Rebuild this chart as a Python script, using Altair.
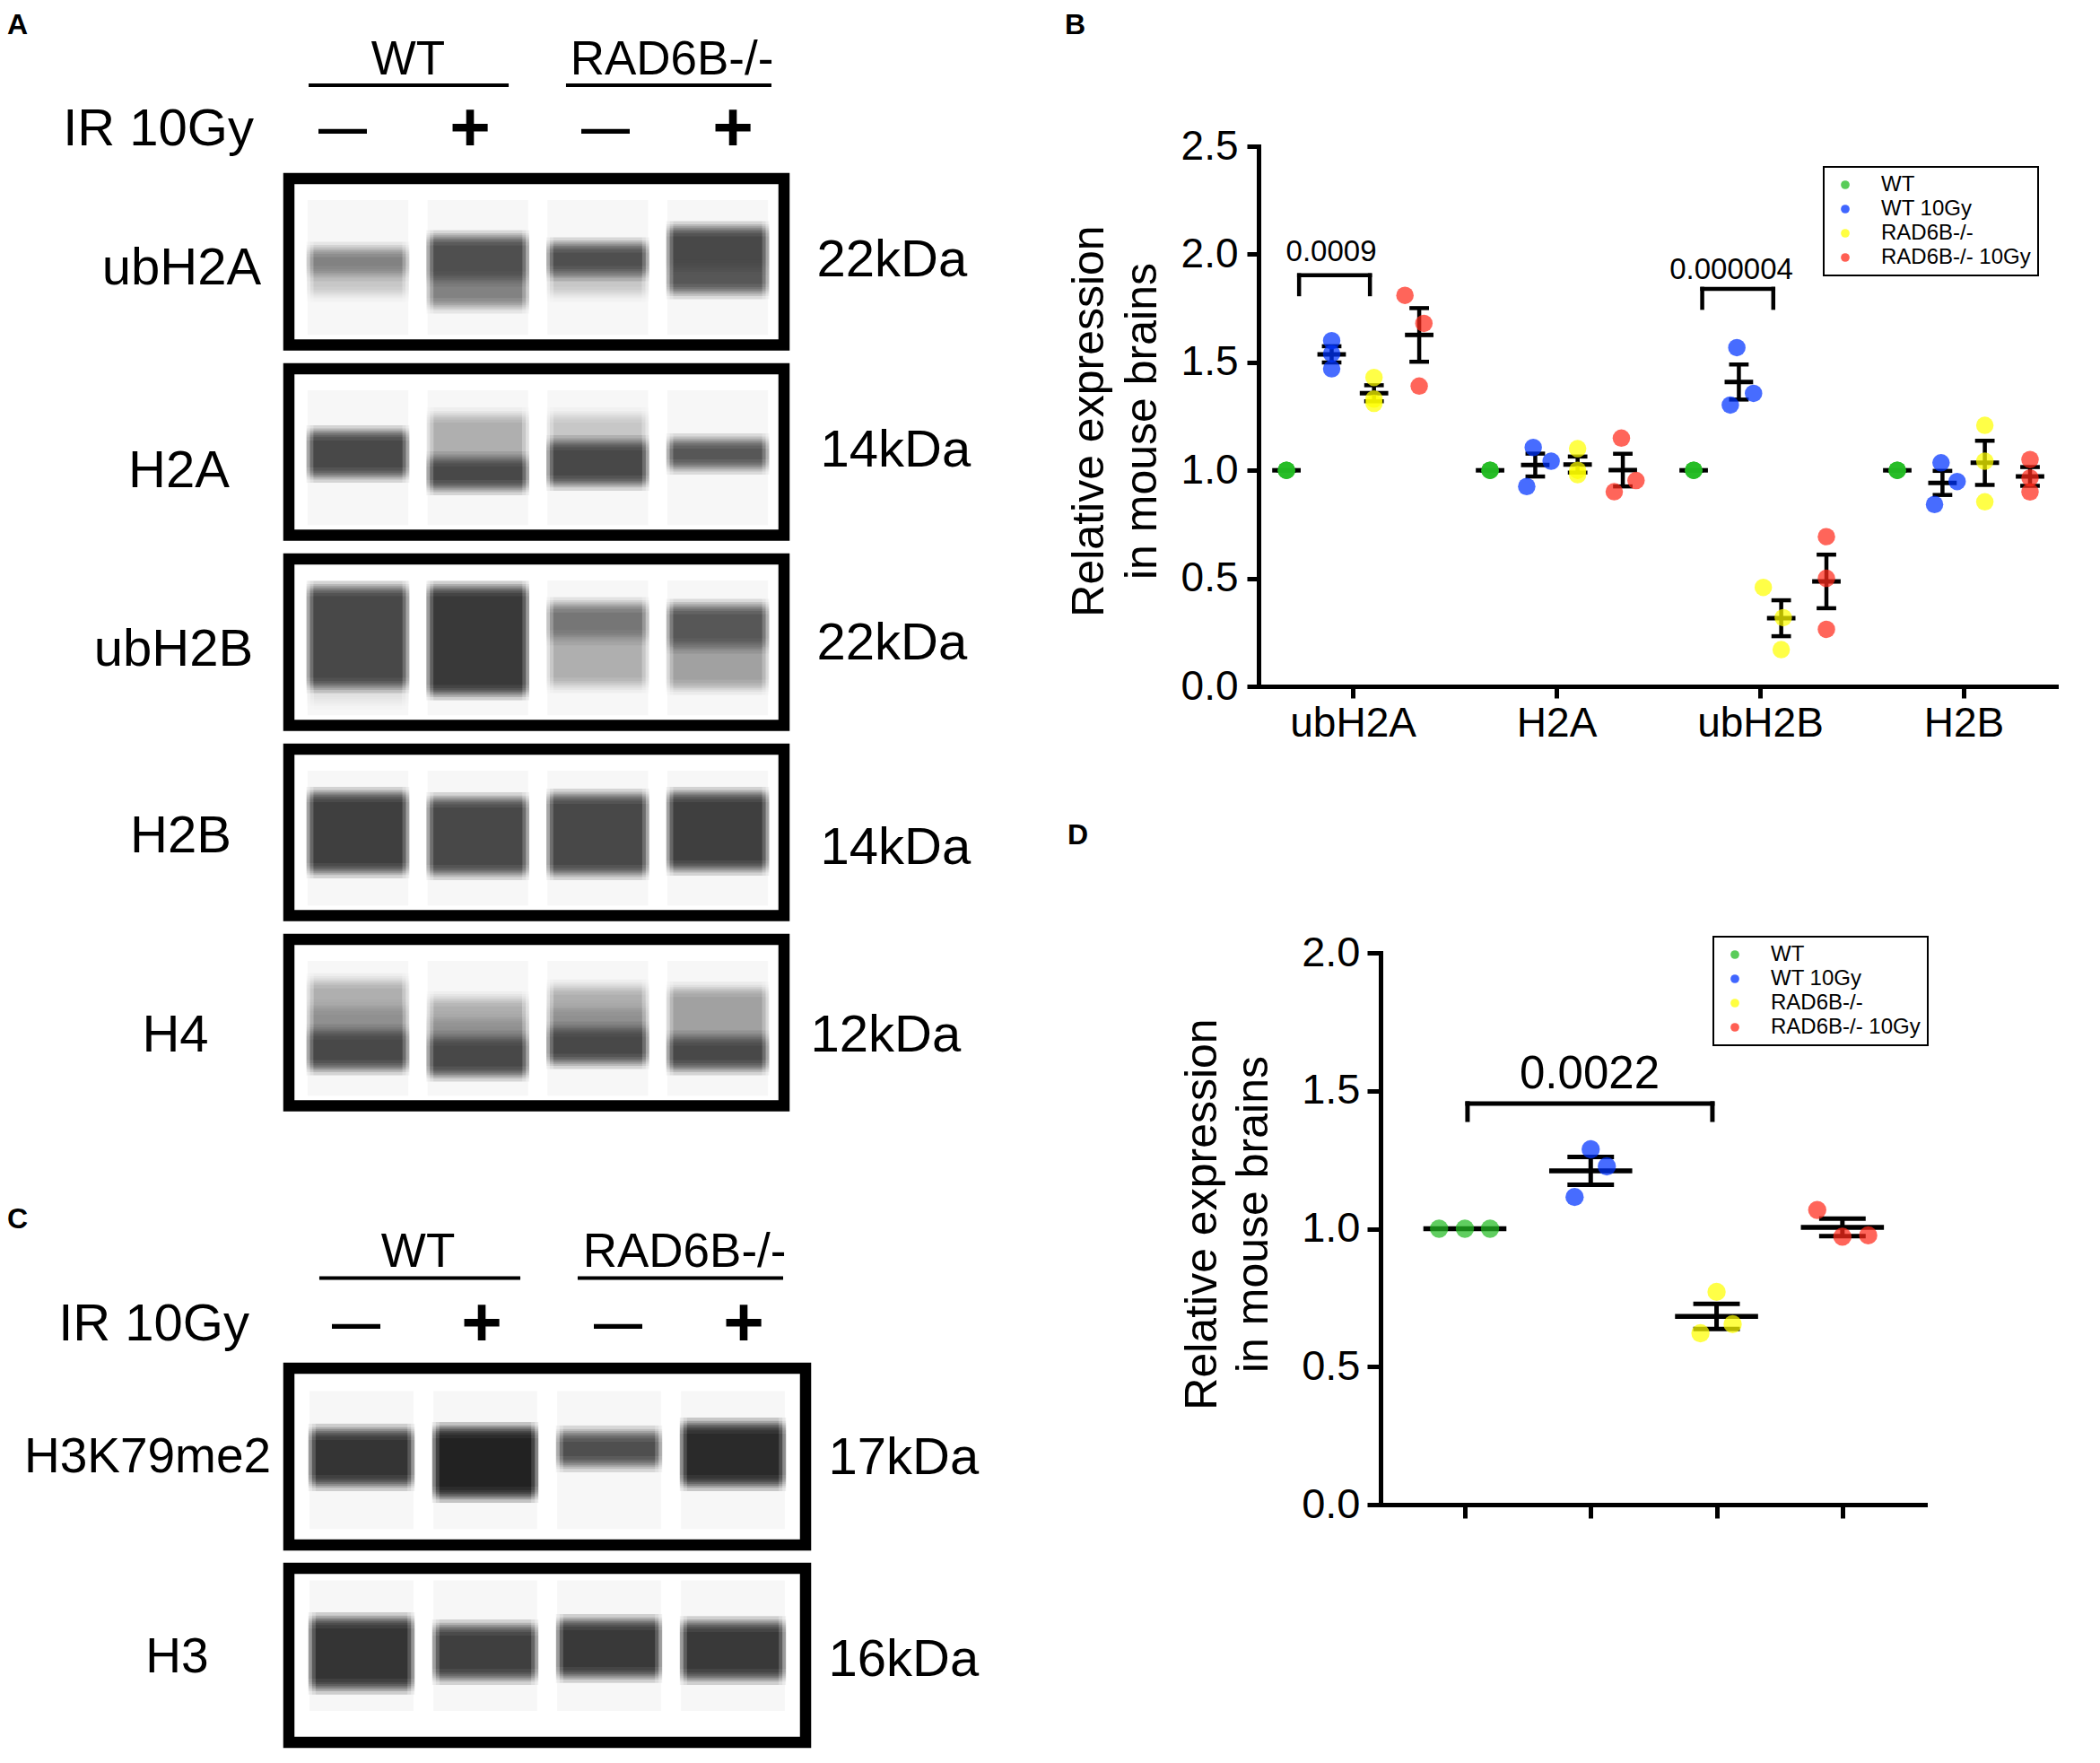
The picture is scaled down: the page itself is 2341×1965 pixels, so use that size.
import altair as alt
import pandas as pd

FONT = "Liberation Sans"

# ------------------------------------------------------------------ western blots (panels A and C)
blot_names = ["ubH2A", "H2A", "ubH2B", "H2B", "H4", "H3K79me2", "H3"]
blot_kda = ["22kDa", "14kDa", "22kDa", "14kDa", "12kDa", "17kDa", "16kDa"]
blot_panel = ["A", "A", "A", "A", "A", "C", "C"]

# band components: blot index, lane, top / bottom (% of frame height), darkness (0 white .. 1 black)
band_blot = [0, 0, 0, 0, 0, 0, 0, 0,
             1, 1, 1, 1, 1, 1,
             2, 2, 2, 2, 2, 2, 2,
             3, 3, 3, 3,
             4, 4, 4, 4, 4, 4, 4, 4, 4, 4, 4,
             5, 5, 5, 5,
             6, 6, 6, 6]
band_lane = [1, 1, 2, 2, 3, 3, 4, 4,
             1, 2, 2, 3, 3, 4,
             1, 1, 2, 3, 3, 4, 4,
             1, 2, 3, 4,
             1, 1, 1, 2, 2, 2, 3, 3, 3, 4, 4,
             1, 2, 3, 4,
             1, 2, 3, 4]
band_top = [42.6, 57.1, 35.6, 60.4, 39.9, 57.1, 30.2, 53.4,
            38.5, 27.8, 54.2, 27.8, 44.5, 43.4,
            17.8, 76.0, 17.8, 27.5, 47.4, 28.6, 52.3,
            27.2, 30.5, 28.3, 27.2,
            24.8, 40.4, 55.5, 35.6, 47.4, 59.3, 28.6, 41.0, 53.9, 30.0, 59.3,
            36.0, 35.0, 37.0, 32.5,
            29.9, 34.0, 30.9, 32.0]
band_bottom = [57.1, 69.5, 60.4, 76.5, 57.1, 69.5, 53.4, 67.9,
               63.9, 54.2, 71.4, 44.5, 68.7, 59.0,
               76.0, 86.0, 80.3, 47.4, 76.0, 52.3, 77.1,
               73.0, 74.1, 74.1, 71.4,
               40.4, 55.5, 77.1, 47.4, 59.3, 80.9, 41.0, 53.9, 73.3, 59.3, 77.1,
               65.0, 71.6, 54.3, 65.0,
               68.0, 62.4, 61.3, 62.4]
band_dark = [0.45, 0.20, 0.66, 0.42, 0.64, 0.20, 0.67, 0.60,
             0.68, 0.22, 0.68, 0.20, 0.68, 0.60,
             0.70, 0.12, 0.73, 0.50, 0.28, 0.60, 0.30,
             0.71, 0.67, 0.69, 0.72,
             0.24, 0.38, 0.67, 0.22, 0.36, 0.68, 0.26, 0.40, 0.67, 0.32, 0.67,
             0.76, 0.85, 0.65, 0.80,
             0.77, 0.71, 0.75, 0.73]
# faint lane background (% of frame height)
lane_bg_top = [13, 13, 13, 13, 13, 13, 7]
lane_bg_bottom = [94, 94, 94, 94, 94, 91, 82]

# header texts
hdr_groups = ["WT", "RAD6B-/-"]
hdr_ir = "IR 10Gy"
hdr_signs = ["—", "+", "—", "+"]

# ------------------------------------------------------------------ panel B data
groups = ["WT", "WT 10Gy", "RAD6B-/-", "RAD6B-/- 10Gy"]
colors = ["#22bb22", "#0033ff", "#ffff00", "#ff2a1a"]
cats_B = ["ubH2A", "H2A", "ubH2B", "H2B"]
vals_ubH2A = [[1.0, 1.0, 1.0], [1.60, 1.54, 1.47], [1.43, 1.33, 1.31], [1.81, 1.68, 1.39]]
vals_H2A = [[1.0, 1.0, 1.0], [1.106, 1.042, 0.925], [1.10, 1.00, 0.98], [1.149, 0.953, 0.901]]
vals_ubH2B = [[1.0, 1.0, 1.0], [1.568, 1.356, 1.302], [0.458, 0.318, 0.170], [0.693, 0.500, 0.264]]
vals_H2B = [[1.0, 1.0, 1.0], [1.035, 0.948, 0.842], [1.208, 1.042, 0.854], [1.050, 0.965, 0.900]]
jit_ubH2A = [[0, 0, 0], [0, 0, 0], [0, 0, 0], [-0.07, 0.023, 0.0]]
jit_H2A = [[0, 0, 0], [-0.01, 0.078, -0.042], [0, 0, 0], [-0.007, 0.065, -0.042]]
jit_ubH2B = [[0, 0, 0], [-0.01, 0.072, -0.042], [-0.088, 0.01, 0.0], [0, 0, 0]]
jit_H2B = [[0, 0, 0], [-0.007, 0.072, -0.039], [0, 0, 0], [0, 0, 0]]
grp_off_B = [-0.326, -0.104, 0.104, 0.326]
brk_B_cat = [1, 3]
brk_B_x0 = [-0.264, -0.284]
brk_B_x1 = [0.084, 0.065]
brk_B_top = [1.903, 1.84]
brk_B_bot = [1.815, 1.752]
brk_B_label = ["0.0009", "0.000004"]
brk_B_lx = [-0.106, -0.141]
brk_B_ly = [2.01, 1.927]

# ------------------------------------------------------------------ panel D data
vals_D = [[1.0, 1.0, 1.0], [1.288, 1.226, 1.115], [0.771, 0.654, 0.621], [1.068, 0.971, 0.976]]
jit_D = [[-0.205, 0.0, 0.2], [0.0, 0.128, -0.128], [0.0, 0.128, -0.128], [-0.2, 0.0, 0.205]]
brk_D_x0 = [1.021]
brk_D_x1 = [2.967]
brk_D_top = [1.454]
brk_D_bot = [1.395]
brk_D_label = ["0.0022"]
brk_D_lx = [1.991]
brk_D_ly = [1.558]

# ------------------------------------------------------------------ layout / style
lane_dom_A = [0.424, 4.553]
lane_dom_C = [0.413, 4.587]
W_A, W_C = 552, 576
blot_h = [185.5, 185.5, 185.5, 185.5, 185.5, 197, 194]
label_dx = [-120, -123, -129, -121, -127, -158, -125]
label_dy = [100, 114.5, 101, 97.5, 107, 98, 98]
label_fs = [58, 58, 58, 58, 58, 55, 55]
kda_dx = [36, 40, 36, 40, 29, 25, 25]
kda_dy = [91, 91.5, 94, 110, 107, 100, 102]
kda_fs = [58, 58, 58, 58, 58, 58, 58]
# separable gaussian-like blur: stacked translucent rects, edges at normal quantiles
BLUR_ZY = [-1.534, -0.887, -0.489, -0.157, 0.157, 0.489, 0.887, 1.534]
BLUR_ZX = [-0.967, 0.0, 0.967]
SIG_Y = 3.0    # % of frame height
SIG_X = 0.03   # lane units

hdr = {
    "A": dict(h=130, gx=[1.419, 3.618], lx0=[0.589, 2.735], lx1=[2.257, 4.448],
              sx=[0.873, 1.935, 3.064, 4.126], irx=0.132, rows=[24, 52, 102]),
    "C": dict(h=239.5, gx=[1.457, 3.609], lx0=[0.659, 2.746], lx1=[2.283, 4.406],
              sx=[0.957, 1.971, 3.072, 4.087], irx=0.094, rows=[136.5, 165.5, 217.5]),
}

# ------------------------------------------------------------------ build blot data
rows = []
for b, l, t, bt, d in zip(band_blot, band_lane, band_top, band_bottom, band_dark):
    for zy in BLUR_ZY:
        for zx in BLUR_ZX:
            rows.append(dict(blot=b, lane=l, top=t, bottom=bt, dark=d, zy=zy, zx=zx))
band_df = pd.DataFrame(rows)
bg_rows = []
for b in range(len(blot_names)):
    for l in range(1, 5):
        bg_rows.append(dict(blot=b, lane=l, top=lane_bg_top[b], bottom=lane_bg_bottom[b]))
bg_df = pd.DataFrame(bg_rows)
NL = len(BLUR_ZY) * len(BLUR_ZX)


def blot(i):
    isA = blot_panel[i] == "A"
    xs = alt.Scale(domain=lane_dom_A if isA else lane_dom_C, nice=False, zero=False)
    ys = alt.Scale(domain=[0, 100], reverse=True, nice=False, zero=False)
    yax_l = alt.Axis(title=blot_names[i], orient="left", labels=False, ticks=False, domain=False,
                     grid=False, titleAngle=0, titleAlign="center", titleBaseline="middle",
                     titleX=label_dx[i], titleY=label_dy[i], titleFont=FONT,
                     titleFontSize=label_fs[i], titleFontWeight="normal", titleColor="black")
    yax_r = alt.Axis(title=blot_kda[i], orient="right", labels=False, ticks=False, domain=False,
                     grid=False, titleAngle=0, titleAlign="left", titleBaseline="middle",
                     titleX=kda_dx[i], titleY=kda_dy[i], titleFont=FONT,
                     titleFontSize=kda_fs[i], titleFontWeight="normal", titleColor="black")
    bg = alt.Chart(bg_df[bg_df.blot == i]).transform_calculate(
        x0="datum.lane - 0.42", x1="datum.lane + 0.42"
    ).mark_rect(color="black", opacity=0.03).encode(
        x=alt.X("x0:Q", scale=xs, axis=None), x2="x1:Q",
        y=alt.Y("top:Q", scale=ys, axis=yax_l), y2="bottom:Q")
    bd = alt.Chart(band_df[band_df.blot == i]).transform_calculate(
        y0=f"datum.top - {SIG_Y} * datum.zy",
        y1=f"datum.bottom + {SIG_Y} * datum.zy",
        x0=f"datum.lane - 0.40 - {SIG_X} * datum.zx",
        x1=f"datum.lane + 0.40 + {SIG_X} * datum.zx",
        a=f"1 - pow(1 - datum.dark, 1 / {NL})",
    ).mark_rect(color="black").encode(
        x=alt.X("x0:Q", scale=xs, axis=None), x2="x1:Q",
        y=alt.Y("y0:Q", scale=ys, axis=yax_r), y2="y1:Q",
        opacity=alt.Opacity("a:Q", scale=None))
    return alt.layer(bg, bd).resolve_scale(y="independent").properties(
        width=W_A if isA else W_C, height=blot_h[i],
        view=alt.ViewBackground(stroke="black", strokeWidth=12.5))


def header(panel):
    p = hdr[panel]
    isA = panel == "A"
    xs = alt.Scale(domain=lane_dom_A if isA else lane_dom_C, nice=False, zero=False)
    ys = alt.Scale(domain=[0, p["h"]], reverse=True, nice=False, zero=False)
    X = lambda f: alt.X(f, type="quantitative", scale=xs, axis=None)
    Y = lambda f: alt.Y(f, type="quantitative", scale=ys, axis=None)
    r = p["rows"]
    g_df = pd.DataFrame({"t": hdr_groups, "x": p["gx"], "y": [r[0]] * 2})
    l_df = pd.DataFrame({"x0": p["lx0"], "x1": p["lx1"], "y": [r[1]] * 2})
    ir_df = pd.DataFrame({"t": [hdr_ir], "x": [p["irx"]], "y": [r[2]]})
    s_df = pd.DataFrame({"t": hdr_signs, "x": p["sx"], "y": [r[2]] * 4})
    layers = [
        alt.Chart(g_df).mark_text(font=FONT, fontSize=53, align="center", baseline="middle",
                                  color="black").encode(x=X("x"), y=Y("y"), text="t:N"),
        alt.Chart(l_df).mark_rule(strokeWidth=4, color="black").encode(x=X("x0"), x2="x1:Q", y=Y("y")),
        alt.Chart(ir_df).mark_text(font=FONT, fontSize=58, align="right", baseline="middle",
                                   color="black").encode(x=X("x"), y=Y("y"), text="t:N"),
        alt.Chart(s_df).transform_filter("datum.t != '+'").mark_text(
            font=FONT, fontSize=54, fontWeight="bold", align="center", baseline="middle",
            color="black").encode(x=X("x"), y=Y("y"), text="t:N"),
        alt.Chart(s_df).transform_filter("datum.t == '+'").mark_text(
            font=FONT, fontSize=78, fontWeight="bold", align="center", baseline="middle",
            color="black").encode(x=X("x"), y=Y("y"), text="t:N"),
    ]
    if not isA:
        c_df = pd.DataFrame({"t": ["C"], "x": [-1.862], "y": [109.5]})
        layers.append(alt.Chart(c_df).mark_text(font=FONT, fontSize=32, fontWeight="bold",
                                                align="left", baseline="alphabetic",
                                                color="black").encode(x=X("x"), y=Y("y"), text="t:N"))
    ch = alt.layer(*layers).properties(width=W_A if isA else W_C, height=p["h"])
    if isA:
        ch = ch.properties(title=alt.TitleParams("A", anchor="start", frame="group", dx=-314, offset=-28.5,
                                                 baseline="alphabetic", font=FONT, fontSize=32,
                                                 fontWeight="bold", color="black"))
    return ch


left = alt.vconcat(header("A"), *[blot(i) for i in range(5)], header("C"), blot(5), blot(6),
                   spacing=26, bounds="flush")

# ------------------------------------------------------------------ scatter panels
rows = []
for ci, (vals, jits) in enumerate(zip([vals_ubH2A, vals_H2A, vals_ubH2B, vals_H2B],
                                      [jit_ubH2A, jit_H2A, jit_ubH2B, jit_H2B])):
    for gi, g in enumerate(groups):
        for v, jt in zip(vals[gi], jits[gi]):
            xg = ci + 1 + grp_off_B[gi]
            rows.append(dict(cat=ci + 1, grp=g, xg=xg, xp=xg + jt, v=v))
dfB = pd.DataFrame(rows)
brkB = pd.DataFrame({
    "x0": [c + o for c, o in zip(brk_B_cat, brk_B_x0)],
    "x1": [c + o for c, o in zip(brk_B_cat, brk_B_x1)],
    "yt": brk_B_top, "yb": brk_B_bot, "label": brk_B_label,
    "lx": [c + o for c, o in zip(brk_B_cat, brk_B_lx)], "ly": brk_B_ly})

rows = []
for gi, g in enumerate(groups):
    for v, jt in zip(vals_D[gi], jit_D[gi]):
        rows.append(dict(cat=gi + 1, grp=g, xg=gi + 1, xp=gi + 1 + jt, v=v))
dfD = pd.DataFrame(rows)
brkD = pd.DataFrame({"x0": brk_D_x0, "x1": brk_D_x1, "yt": brk_D_top, "yb": brk_D_bot,
                     "label": brk_D_label, "lx": brk_D_lx, "ly": brk_D_ly})


def legend(x, y):
    return alt.Legend(title=None, orient="none", legendX=x, legendY=y, strokeColor="black",
                      fillColor="white", padding=8, symbolType="circle", symbolSize=95,
                      symbolOpacity=0.75, symbolStrokeWidth=0, labelFont=FONT, labelFontSize=24,
                      labelColor="black", labelLimit=0, rowPadding=3, labelOffset=28, symbolOffset=4)


def scatter(df, brk, xs, ys, xax, yax, mean_hw, cap_hw, size, leg, lab_size, lw):
    X = lambda f: alt.X(f, type="quantitative", scale=xs, axis=xax)
    Y = lambda f: alt.Y(f, type="quantitative", scale=ys, axis=yax)
    base = alt.Chart(df)
    stats = base.transform_aggregate(
        m="mean(v)", sd="stdev(v)", n="count()", groupby=["cat", "grp", "xg"]
    ).transform_calculate(
        se="datum.sd / sqrt(datum.n)", lo="datum.m - datum.se", hi="datum.m + datum.se",
        ml=f"datum.xg - {mean_hw}", mr=f"datum.xg + {mean_hw}",
        cl=f"datum.xg - {cap_hw}", cr=f"datum.xg + {cap_hw}")
    vbar = stats.mark_rule(strokeWidth=lw, color="black").encode(x=X("xg"), y=Y("lo"), y2="hi:Q")
    cap_lo = stats.mark_rule(strokeWidth=lw, color="black").encode(x=X("cl"), x2="cr:Q", y=Y("lo"))
    cap_hi = stats.mark_rule(strokeWidth=lw, color="black").encode(x=X("cl"), x2="cr:Q", y=Y("hi"))
    mean = stats.mark_rule(strokeWidth=lw + 0.5, color="black").encode(x=X("ml"), x2="mr:Q", y=Y("m"))
    bh = alt.Chart(brk).mark_rule(strokeWidth=lw, color="black", strokeCap="square").encode(
        x=X("x0"), x2="x1:Q", y=Y("yt"))
    bl = alt.Chart(brk).mark_rule(strokeWidth=lw, color="black", strokeCap="square").encode(
        x=X("x0"), y=Y("yb"), y2="yt:Q")
    br = alt.Chart(brk).mark_rule(strokeWidth=lw, color="black", strokeCap="square").encode(
        x=X("x1"), y=Y("yb"), y2="yt:Q")
    bt = alt.Chart(brk).mark_text(font=FONT, fontSize=lab_size, baseline="middle", align="center",
                                  color="black").encode(x=X("lx"), y=Y("ly"), text="label:N")
    pts = base.mark_circle(size=size, opacity=0.72).encode(
        x=X("xp"), y=Y("v"),
        color=alt.Color("grp:N", scale=alt.Scale(domain=groups, range=colors), legend=leg))
    return alt.layer(vbar, cap_lo, cap_hi, mean, bh, bl, br, bt, pts)


ytitle = ["Relative expression", "in mouse brains"]

xsB = alt.Scale(domain=[0.537, 4.467], nice=False, zero=False)
ysB = alt.Scale(domain=[0, 2.5], range=[722, 120], nice=False, zero=False)
xaxB = alt.Axis(title=None, values=[1, 2, 3, 4], labelExpr="['', 'ubH2A', 'H2A', 'ubH2B', 'H2B'][datum.value]",
                grid=False, domainWidth=5, domainColor="black", domainCap="square", tickWidth=5,
                tickColor="black", tickSize=13, labelFont=FONT, labelFontSize=46, labelColor="black",
                labelPadding=6)
yaxB = alt.Axis(title=ytitle, values=[0, 0.5, 1, 1.5, 2, 2.5], format=".1f", grid=False,
                domainWidth=5, domainColor="black", domainCap="square", tickWidth=5, tickColor="black",
                tickSize=13, labelFont=FONT, labelFontSize=46, labelColor="black", labelPadding=10,
                titleFont=FONT, titleFontSize=50, titleFontWeight="normal", titleColor="black",
                titleLineHeight=59, titleX=-189, titleY=426, titleAlign="center",
                titleBaseline="middle", titleAngle=-90)
chartB = scatter(dfB, brkB, xsB, ysB, xaxB, yaxB, 0.07, 0.048, 380, legend(630, 143), 33, 4.5).properties(
    width=892, height=722,
    title=alt.TitleParams("B", anchor="start", frame="group", dx=-216, offset=-27, baseline="alphabetic",
                          font=FONT, fontSize=32, fontWeight="bold", color="black"))

xsD = alt.Scale(domain=[0.33, 4.657], range=[136, 743], nice=False, zero=False)
ysD = alt.Scale(domain=[0, 2.0], range=[639, 24], nice=False, zero=False)
xaxD = alt.Axis(title=None, values=[1, 2, 3, 4], labels=False, grid=False, domainWidth=5,
                domainColor="black", domainCap="square", tickWidth=5, tickColor="black", tickSize=15)
yaxD = alt.Axis(title=ytitle, values=[0, 0.5, 1, 1.5, 2], format=".1f", grid=False, offset=-136,
                domainWidth=5, domainColor="black", domainCap="square", tickWidth=5, tickColor="black",
                tickSize=15, labelFont=FONT, labelFontSize=47, labelColor="black", labelPadding=8,
                titleFont=FONT, titleFontSize=50, titleFontWeight="normal", titleColor="black",
                titleLineHeight=57, titleX=-199, titleY=315, titleAlign="center",
                titleBaseline="middle", titleAngle=-90)
chartD = scatter(dfD, brkD, xsD, ysD, xaxD, yaxD, 0.33, 0.185, 415, legend(507, 6), 51, 5).properties(
    width=743, height=639,
    title=alt.TitleParams("D", anchor="start", frame="group", dx=-213, offset=65, baseline="alphabetic",
                          font=FONT, fontSize=32, fontWeight="bold", color="black"))

right = alt.vconcat(chartB, chartD, spacing=273, bounds="flush").resolve_scale(
    color="independent").resolve_legend(color="independent")

chart = alt.hconcat(left, right, spacing=90).resolve_scale(color="independent").resolve_legend(
    color="independent").properties(padding={"left": 0, "top": 3, "right": 0, "bottom": 0}).configure_view(
    stroke=None).configure_legend(strokeWidth=2)

chart.save("out.html", embed_options={"renderer": "svg", "actions": False})
